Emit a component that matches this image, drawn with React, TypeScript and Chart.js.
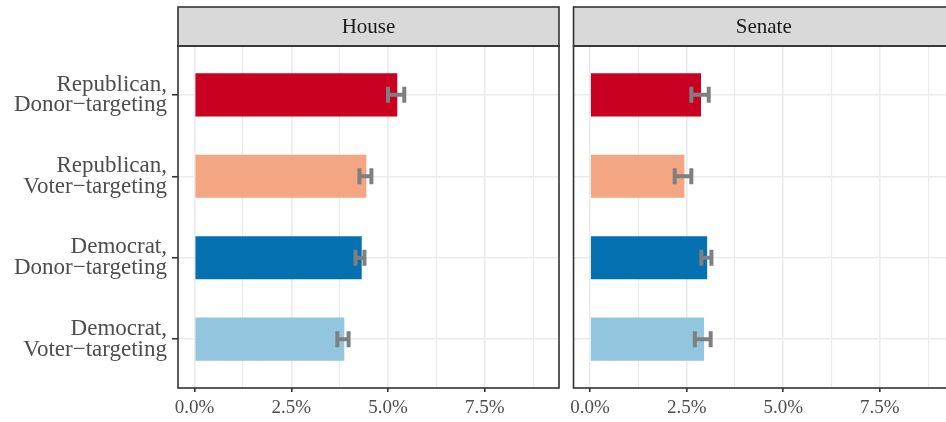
import { useEffect, useRef } from 'react';
import { Chart, registerables } from 'chart.js';

Chart.register(...registerables);

const categories: string[][] = [
  ['Republican,', 'Donor\u2212targeting'],
  ['Republican,', 'Voter\u2212targeting'],
  ['Democrat,', 'Donor\u2212targeting'],
  ['Democrat,', 'Voter\u2212targeting'],
];
const barColors = ['#CA0020', '#F4A582', '#0571B0', '#92C5DE'];
const panelTitles = ['House', 'Senate'];

const houseValues = [5.24, 4.44, 4.32, 3.87];
const houseLow = [5.0, 4.26, 4.16, 3.69];
const houseHigh = [5.42, 4.57, 4.39, 3.98];

const senateValues = [2.87, 2.44, 3.03, 2.95];
const senateLow = [2.62, 2.19, 2.88, 2.71];
const senateHigh = [3.07, 2.62, 3.14, 3.12];

const xTickValues = [0, 1.25, 2.5, 3.75, 5, 6.25, 7.5, 8.75];
const xMajorTicks = [0, 2.5, 5, 7.5];
const xMin = -0.43;
const xMax = 9.42;

const FONT = "'Liberation Serif', 'Times New Roman', serif";

const facetPlugin = {
  id: 'facet',
  afterDatasetsDraw(chart: any, _args: any, opts: any) {
    const ctx = chart.ctx;
    const xs = chart.scales.x;
    const ys = chart.scales.y;
    ctx.save();
    ctx.strokeStyle = '#7f7f7f';
    ctx.lineWidth = 4;
    ctx.lineCap = 'butt';
    (opts.low as number[]).forEach((lo, i) => {
      const y = ys.getPixelForValue(i);
      const x1 = xs.getPixelForValue(lo);
      const x2 = xs.getPixelForValue(opts.high[i]);
      const h = opts.capHalf;
      ctx.beginPath();
      ctx.moveTo(x1, y);
      ctx.lineTo(x2, y);
      ctx.moveTo(x1, y - h);
      ctx.lineTo(x1, y + h);
      ctx.moveTo(x2, y - h);
      ctx.lineTo(x2, y + h);
      ctx.stroke();
    });
    ctx.restore();
  },
  afterDraw(chart: any, _args: any, opts: any) {
    const ctx = chart.ctx;
    const { left, right, top, bottom } = chart.chartArea;
    const stripTop = opts.stripTop;
    ctx.save();
    ctx.fillStyle = '#d9d9d9';
    ctx.fillRect(left, stripTop, right - left, top - stripTop);
    ctx.strokeStyle = '#333333';
    ctx.lineWidth = 1.6;
    ctx.strokeRect(left, stripTop, right - left, top - stripTop);
    ctx.strokeRect(left, top, right - left, bottom - top);
    ctx.fillStyle = '#1a1a1a';
    ctx.font = `21px ${FONT}`;
    ctx.textAlign = 'center';
    ctx.textBaseline = 'middle';
    ctx.fillText(opts.title, (left + right) / 2, (stripTop + top) / 2 + 1);
    ctx.restore();
  },
};

function makeConfig(
  title: string,
  values: number[],
  low: number[],
  high: number[],
  showY: boolean
): any {
  const isMajor = (v: number) => xMajorTicks.includes(v);
  return {
    type: 'bar',
    data: {
      datasets: [
        {
          data: values.map((v, i) => ({ x: v, y: i })),
          backgroundColor: barColors,
          borderWidth: 0,
          barPercentage: 0.53,
          categoryPercentage: 1,
        },
      ],
    },
    options: {
      indexAxis: 'y',
      responsive: false,
      animation: false,
      events: [],
      layout: { padding: { left: 0, right: 6, top: 46, bottom: 0 } },
      plugins: {
        legend: { display: false },
        tooltip: { enabled: false },
        facet: { title, low, high, capHalf: 8, stripTop: 7 },
      },
      scales: {
        y: {
          type: 'linear',
          min: -0.6,
          max: 3.6,
          reverse: true,
          offset: false,
          afterBuildTicks: (s: any) => {
            s.ticks = categories.map((_, i) => ({ value: i }));
          },
          afterFit: (s: any) => {
            s.width = showY ? 178 : 8;
          },
          border: { display: false },
          grid: {
            offset: false,
            color: '#ebebeb',
            lineWidth: 1.5,
            drawTicks: showY,
            tickLength: 6,
            tickColor: '#333333',
            tickWidth: 1.6,
          },
          ticks: {
            display: showY,
            padding: 5,
            color: '#4d4d4d',
            font: { family: FONT, size: 23, lineHeight: 0.9 },
            callback: (v: number) => categories[v] ?? '',
          },
        },
        x: {
          type: 'linear',
          min: xMin,
          max: xMax,
          offset: false,
          afterBuildTicks: (s: any) => {
            s.ticks = xTickValues.map((v) => ({ value: v }));
          },
          afterFit: (s: any) => {
            s.height = 34;
          },
          border: { display: false },
          grid: {
            offset: false,
            color: '#ebebeb',
            lineWidth: (c: any) => (c.tick && isMajor(c.tick.value) ? 1.6 : 1.1),
            tickLength: 4,
            tickColor: (c: any) =>
              c.tick && isMajor(c.tick.value) ? '#333333' : 'rgba(0,0,0,0)',
            tickWidth: 1.6,
          },
          ticks: {
            autoSkip: false,
            maxRotation: 0,
            padding: 5,
            color: '#4d4d4d',
            font: { family: FONT, size: 19 },
            callback: (v: number) => (isMajor(v) ? v.toFixed(1) + '%' : ''),
          },
        },
      },
    },
    plugins: [facetPlugin],
  };
}

function Panel(props: {
  left: number;
  width: number;
  title: string;
  values: number[];
  low: number[];
  high: number[];
  showY: boolean;
}) {
  const ref = useRef<HTMLCanvasElement>(null);
  useEffect(() => {
    if (!ref.current) return;
    const chart = new Chart(
      ref.current,
      makeConfig(props.title, props.values, props.low, props.high, props.showY)
    );
    return () => chart.destroy();
  }, []);
  return (
    <div style={{ position: 'absolute', left: props.left, top: 0, width: props.width, height: 422 }}>
      <canvas ref={ref} width={props.width} height={422} style={{ display: 'block' }} />
    </div>
  );
}

export default function App() {
  return (
    <div
      style={{
        position: 'fixed',
        left: 0,
        top: 0,
        width: 946,
        height: 422,
        overflow: 'hidden',
        background: '#ffffff',
      }}
    >
      <Panel left={0} width={565} title={panelTitles[0]} values={houseValues} low={houseLow} high={houseHigh} showY={true} />
      <Panel left={565} width={395} title={panelTitles[1]} values={senateValues} low={senateLow} high={senateHigh} showY={false} />
    </div>
  );
}
